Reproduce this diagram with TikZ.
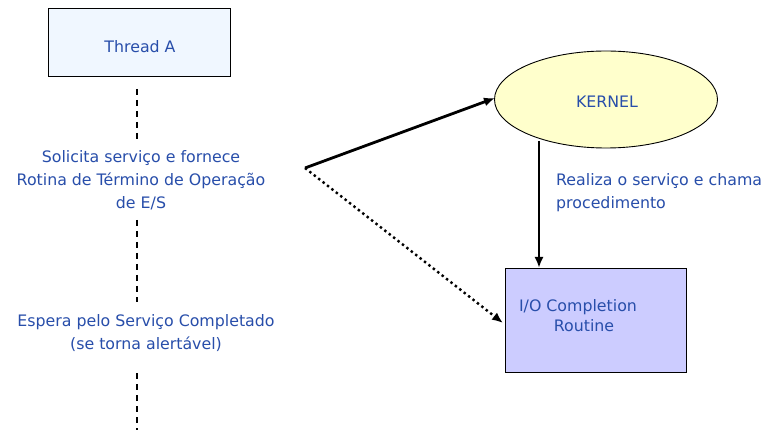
\documentclass[tikz,border=0pt]{standalone}
\usepackage{fontspec}
\setmainfont{DejaVu Sans}
\usetikzlibrary{shapes.geometric,arrows.meta}
\definecolor{txtblue}{RGB}{40,78,170}
\definecolor{threadfill}{RGB}{240,247,255}
\definecolor{kernfill}{RGB}{255,255,204}
\definecolor{iofill}{RGB}{204,204,255}
\tikzset{
  lbl/.style={text=txtblue, font=\fontsize{15.8}{23}\selectfont, align=center, inner sep=0pt},
  boxa/.style={draw=black, line width=0.9pt, inner sep=0pt},
  lifeline/.style={line width=2.4pt, dash pattern=on 6pt off 5pt},
  conn/.style={line width=2.8pt, -{Latex[length=11pt,width=9pt]}},
  dotconn/.style={line width=2.4pt, dash pattern=on 2.4pt off 3.2pt, -{Latex[length=11pt,width=9pt]}},
}
\begin{document}
\begin{tikzpicture}[x=1pt,y=-1pt]
\useasboundingbox (0,0) rectangle (768,430);
\fill[white] (0,0) rectangle (768,430);
% thread box
\node[boxa, fill=threadfill, minimum width=182pt, minimum height=68pt] (thread) at (139,42) {};
\node[lbl] (threadtxt) at (140,47) {Thread A};
% lifeline labels
\node[lbl] (solicita) at (141,180) {Solicita serviço e fornece\\Rotina de Término de Operação\\de E/S};
\node[lbl] (espera) at (146,333) {Espera pelo Serviço Completado\\(se torna alertável)};
% lifeline segments
\coordinate (l1a) at (137,89);  \coordinate (l1b) at (137,139);
\coordinate (l2a) at (137,220); \coordinate (l2b) at (137,302);
\coordinate (l3a) at (137,373); \coordinate (l3b) at (137,430);
\draw[lifeline] (l1a) -- (l1b);
\draw[lifeline] (l2a) -- (l2b);
\draw[lifeline] (l3a) -- (l3b);
% kernel
\node[ellipse, draw=black, line width=0.9pt, fill=kernfill, minimum width=223pt, minimum height=97pt, inner sep=0pt] (kernel) at (606,99.5) {};
\node[lbl] (kerneltxt) at (607,102) {KERNEL};
% completion routine
\node[boxa, fill=iofill, minimum width=181pt, minimum height=104pt] (io) at (595.5,320) {};
\node[lbl, font=\fontsize{15.8}{20}\selectfont] (iotxt) at (578,316) {I/O Completion\\\hspace*{12pt}Routine};
% connectors
\coordinate (src) at (305,168);
\coordinate (kin) at (495,98);
\coordinate (ioin) at (503,323);
\coordinate (kout) at (539,141);
\coordinate (iotop) at (539,268);
\draw[conn] (src) -- (kin);
\draw[dotconn] (src) -- (ioin);
\draw[conn] (kout) -- (iotop);
\node[lbl, anchor=west, align=left] (realiza) at (556,193) {Realiza o serviço e chama\\procedimento};
\end{tikzpicture}
\end{document}
